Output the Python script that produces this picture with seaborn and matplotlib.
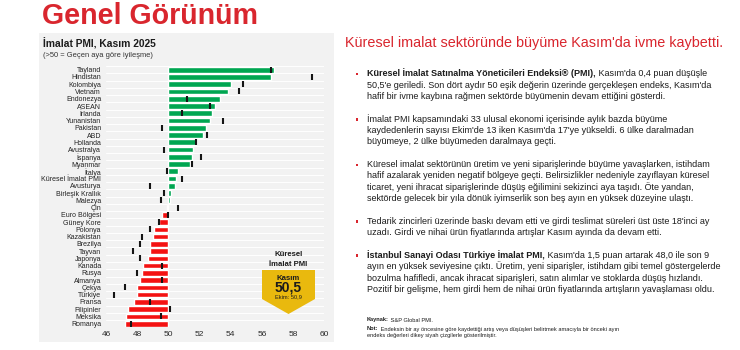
import numpy as np
import pandas as pd
import matplotlib
matplotlib.use("Agg")
import matplotlib.pyplot as plt
import seaborn as sns
import matplotlib.ticker as ticker
from matplotlib.patches import Rectangle, Polygon

# --- data ---
countries = ['Tayland', 'Hindistan', 'Kolombiya', 'Vietnam', 'Endonezya', 'ASEAN',
             'İrlanda', 'Yunanistan', 'Pakistan', 'ABD', 'Hollanda', 'Avustralya',
             'İspanya', 'Myanmar', 'İtalya', 'Küresel İmalat PMI', 'Avusturya',
             'Birleşik Krallık', 'Malezya', 'Çin', 'Euro Bölgesi', 'Güney Kore',
             'Polonya', 'Kazakistan', 'Brezilya', 'Tayvan', 'Japonya', 'Kanada',
             'Rusya', 'Almanya', 'Çekya', 'Türkiye', 'Fransa', 'Filipinler',
             'Meksika', 'Romanya']
pmi_kasim = [56.8, 56.6, 54.0, 53.8, 53.3, 53.0, 52.8, 52.7, 52.4, 52.2, 51.8, 51.6,
             51.5, 51.4, 50.6, 50.5, 50.4, 50.2, 50.1, 49.9, 49.6, 49.4, 49.1, 49.0,
             48.8, 48.8, 48.7, 48.4, 48.3, 48.2, 48.0, 48.0, 47.8, 47.4, 47.3, 47.2]
pmi_ekim = [56.6, 59.2, 54.8, 54.5, 51.2, 52.7, 50.9, 53.5, 49.6, 52.5, 51.8, 49.7,
            52.1, 51.5, 49.9, 50.9, 48.8, 49.7, 49.5, 50.6, 50.0, 49.4, 48.8, 48.3,
            48.2, 47.7, 48.2, 49.6, 48.0, 49.6, 47.2, 46.5, 48.8, 50.1, 49.5, 47.6]
esik = 50
x_ticks = [46, 48, 50, 52, 54, 56, 58, 60]

RED = '#d9262e'
GREEN = '#00a651'
BARRED = '#f41212'
GOLD = '#e9b90e'
TXT = '#1c1c1c'
PANEL = '#f2f2f2'

df = pd.DataFrame({'ulke': countries, 'kasim': pmi_kasim, 'ekim': pmi_ekim})
df['fark'] = df['kasim'] - esik
df['onceki'] = df['ekim'] - esik
df['durum'] = np.where(df['kasim'] >= esik, 'buyume', 'daralma')
df['pos'] = np.arange(len(df))

sns.set_theme(style="white")
plt.rcParams['font.family'] = ['Liberation Sans', 'DejaVu Sans']

W, H = 740, 350
fig = plt.figure(figsize=(7.4, 3.5), dpi=100)
fig.patch.set_facecolor('white')


def fx(px):
    return px / W


def fy(py):
    return 1 - py / H


# grey panel behind the chart
fig.add_artist(Rectangle((fx(39), fy(342)), fx(334) - fx(39), fy(33) - fy(342),
                         transform=fig.transFigure, facecolor=PANEL, edgecolor='none', zorder=-5))

ax = fig.add_axes([fx(106), fy(327.3), fx(324.3) - fx(106), (327.3 - 66.1) / H])
ax.set_facecolor('none')

sns.barplot(data=df, y='ulke', x='fark', hue='durum', order=countries,
            palette={'buyume': GREEN, 'daralma': BARRED}, dodge=False, width=0.78,
            saturation=1, orient='h', legend=False, ax=ax, zorder=3)
sns.scatterplot(data=df, x='onceki', y='pos', marker='|', s=19, color='#151515',
                linewidth=1.5, ax=ax, zorder=4)

ax.set_xlim(x_ticks[0] - esik, x_ticks[-1] - esik)
ax.set_ylim(len(countries) - 0.5, -0.5)
ax.set_xticks([t - esik for t in x_ticks])
ax.xaxis.set_major_formatter(ticker.FuncFormatter(lambda v, p: f"{v + esik:.0f}"))
ax.set_yticks(df['pos'])
ax.set_yticklabels(countries)
for i in range(len(countries) + 1):
    ax.axhline(i - 0.5, color='white', lw=0.7, zorder=1)
for s in ax.spines.values():
    s.set_visible(False)
ax.tick_params(axis='y', length=0, pad=3.5, labelsize=5, labelcolor='#222222')
ax.tick_params(axis='x', length=0, pad=2.5, labelsize=6, labelcolor='#2a2a2a')
ax.set_xlabel('')
ax.set_ylabel('')

# chart titles
fig.text(fx(42.5), fy(24), 'Genel Görünüm', fontsize=20.6, fontweight='bold', color=RED,
         ha='left', va='baseline')
fig.text(fx(43), fy(47.7), 'İmalat PMI, Kasım 2025', fontsize=7.4, fontweight='bold',
         color=TXT, ha='left', va='baseline')
fig.text(fx(43), fy(57.3), '(>50 = Geçen aya göre iyileşme)', fontsize=5.4,
         color='#333333', ha='left', va='baseline')

# global PMI badge
fig.add_artist(Polygon([(fx(262), fy(270)), (fx(315), fy(270)), (fx(315), fy(299)),
                        (fx(288.5), fy(314)), (fx(262), fy(299))],
                       closed=True, transform=fig.transFigure, facecolor=GOLD,
                       edgecolor='none', zorder=5))
fig.text(fx(288.5), fy(256), 'Küresel', fontsize=5.6, fontweight='bold', color=TXT,
         ha='center', va='baseline', zorder=6)
fig.text(fx(288.5), fy(265.5), 'İmalat PMI', fontsize=5.6, fontweight='bold', color=TXT,
         ha='center', va='baseline', zorder=6)
fig.text(fx(288.5), fy(280), 'Kasım', fontsize=5.6, fontweight='bold', color=TXT,
         ha='center', va='baseline', zorder=6)
fig.text(fx(288.5), fy(291.5), f"{pmi_kasim[15]:.1f}".replace('.', ','), fontsize=10,
         fontweight='bold', color=TXT, ha='center', va='baseline', zorder=6)
fig.text(fx(288.5), fy(298.5), 'Ekim: ' + f"{pmi_ekim[15]:.1f}".replace('.', ','),
         fontsize=4.1, color=TXT, ha='center', va='baseline', zorder=6)

# right-hand commentary
fig.text(fx(345), fy(47.3), "Küresel imalat sektöründe büyüme Kasım'da ivme kaybetti.",
         fontsize=10.4, color=RED, ha='left', va='baseline')

renderer = fig.canvas.get_renderer()
BODY = 6.5


def line(x, y, parts, size=BODY):
    # parts: list of (text, bold)
    for txt, bold in parts:
        t = fig.text(fx(x), fy(y), txt, fontsize=size, color=TXT, ha='left', va='baseline',
                     fontweight='bold' if bold else 'normal')
        x = t.get_window_extent(renderer=renderer).x1


bullets = [
    [[("Küresel İmalat Satınalma Yöneticileri Endeksi® (PMI),", True),
      (" Kasım'da 0,4 puan düşüşle", False)],
     [("50,5'e geriledi. Son dört aydır 50 eşik değerin üzerinde gerçekleşen endeks, Kasım'da", False)],
     [("hafif bir ivme kaybına rağmen sektörde büyümenin devam ettiğini gösterdi.", False)]],
    [[("İmalat PMI kapsamındaki 33 ulusal ekonomi içerisinde aylık bazda büyüme", False)],
     [("kaydedenlerin sayısı Ekim'de 13 iken Kasım'da 17'ye yükseldi. 6 ülke daralmadan", False)],
     [("büyümeye, 2 ülke büyümeden daralmaya geçti.", False)]],
    [[("Küresel imalat sektörünün üretim ve yeni siparişlerinde büyüme yavaşlarken, istihdam", False)],
     [("hafif azalarak yeniden negatif bölgeye geçti. Belirsizlikler nedeniyle zayıflayan küresel", False)],
     [("ticaret, yeni ihracat siparişlerinde düşüş eğilimini sekizinci aya taşıdı. Öte yandan,", False)],
     [("sektörde gelecek bir yıla dönük iyimserlik son beş ayın en yüksek düzeyine ulaştı.", False)]],
    [[("Tedarik zincirleri üzerinde baskı devam etti ve girdi teslimat süreleri üst üste 18'inci ay", False)],
     [("uzadı. Girdi ve nihai ürün fiyatlarında artışlar Kasım ayında da devam etti.", False)]],
    [[("İstanbul Sanayi Odası Türkiye İmalat PMI,", True),
      (" Kasım'da 1,5 puan artarak 48,0 ile son 9", False)],
     [("ayın en yüksek seviyesine çıktı. Üretim, yeni siparişler, istihdam gibi temel göstergelerde", False)],
     [("bozulma hafifledi, ancak ihracat siparişleri, satın alımlar ve stoklarda düşüş hızlandı.", False)],
     [("Pozitif bir gelişme, hem girdi hem de nihai ürün fiyatlarında artışların yavaşlaması oldu.", False)]],
]

k = 0
for b in bullets:
    y0 = 74 + 11.35 * k
    fig.add_artist(Rectangle((fx(355.5), fy(y0 + 1.3)), fx(2.6), 2.6 / H,
                             transform=fig.transFigure, facecolor=RED, edgecolor='none'))
    for ln in b:
        line(367, 74 + 11.35 * k + 2.3, ln)
        k += 1
    k += 1

line(367, 321.5, [("Kaynak:", True), (" S&P Global PMI.", False)], size=4.1)
line(367, 330.5, [("Not:", True), (" Endeksin bir ay öncesine göre kaydettiği artış veya düşüşleri "
                                   "belirtmek amacıyla bir önceki ayın", False)], size=4.1)
line(367, 336.5, [("endeks değerleri dikey siyah çizgilerle gösterilmiştir.", False)], size=4.1)

fig.savefig('out.png', dpi=100, facecolor='white')
